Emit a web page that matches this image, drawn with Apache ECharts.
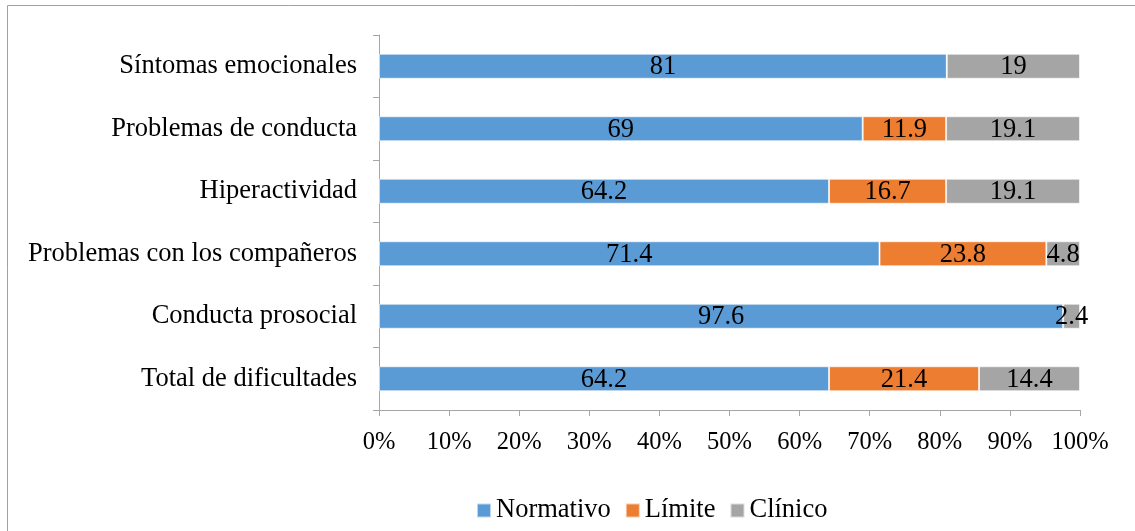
<!DOCTYPE html>
<html><head><meta charset="utf-8">
<script src="https://cdn.jsdelivr.net/npm/echarts@6/dist/echarts.min.js"></script>
<style>html,body{margin:0;padding:0;background:#fff}#c{width:1135px;height:531px}</style>
</head><body><div id="c"></div>
<script>
const categories = ["Síntomas emocionales","Problemas de conducta","Hiperactividad","Problemas con los compañeros","Conducta prosocial","Total de dificultades"];
const normativo = [81, 69, 64.2, 71.4, 97.6, 64.2];
const limite = [0, 11.9, 16.7, 23.8, 0, 21.4];
const clinico = [19, 19.1, 19.1, 4.8, 2.4, 14.4];
const seriesNames = ["Normativo","Límite","Clínico"];
const colors = ["#5B9BD5","#ED7D31","#A5A5A5"];
const xTicks = [0,10,20,30,40,50,60,70,80,90,100];

const font = "'Liberation Serif','Times New Roman',serif";
const chart = echarts.init(document.getElementById('c'));
const mk = (name, data, i) => ({
  name, type: 'bar', stack: 'total', data, barWidth: 25,
  itemStyle: { color: colors[i], borderColor: 'rgba(255,255,255,0.6)', borderWidth: 1 },
  label: { show: true, position: 'inside', color: '#000', fontFamily: font, fontSize: 26.5,
    offset: [0, 1], formatter: p => p.value ? String(p.value) : '' },
  emphasis: { disabled: true }
});
chart.setOption({
  animation: false,
  textStyle: { fontFamily: font },
  graphic: [{ type: 'rect', shape: { x: 7.5, y: 5.5, width: 1140, height: 540 },
    style: { fill: 'none', stroke: '#a0a0a0', lineWidth: 1 }, silent: true }],
  grid: { left: 379, right: 55, top: 35, bottom: 121, containLabel: false },
  xAxis: {
    type: 'value', min: 0, max: 100, interval: 10,
    axisLine: { show: true, lineStyle: { color: '#a6a6a6', width: 1 } },
    axisTick: { show: true, length: 6, lineStyle: { color: '#a6a6a6' } },
    splitLine: { show: false },
    axisLabel: { color: '#000', fontSize: 24.5, fontFamily: font, margin: 20, formatter: v => v + '%' }
  },
  yAxis: {
    type: 'category', data: categories, inverse: true,
    axisLine: { show: true, lineStyle: { color: '#a6a6a6', width: 1 } },
    axisTick: { show: true, length: 6, lineStyle: { color: '#a6a6a6' } },
    axisLabel: { color: '#000', fontSize: 26.5, fontFamily: font, margin: 22 }
  },
  legend: {
    data: seriesNames, left: 476, top: 497, padding: 0, itemWidth: 14, itemHeight: 14, itemGap: 14,
    icon: 'rect', textStyle: { color: '#000', fontSize: 26.5, fontFamily: font }
  },
  series: [mk(seriesNames[0], normativo, 0), mk(seriesNames[1], limite, 1), mk(seriesNames[2], clinico, 2)]
});
</script></body></html>
